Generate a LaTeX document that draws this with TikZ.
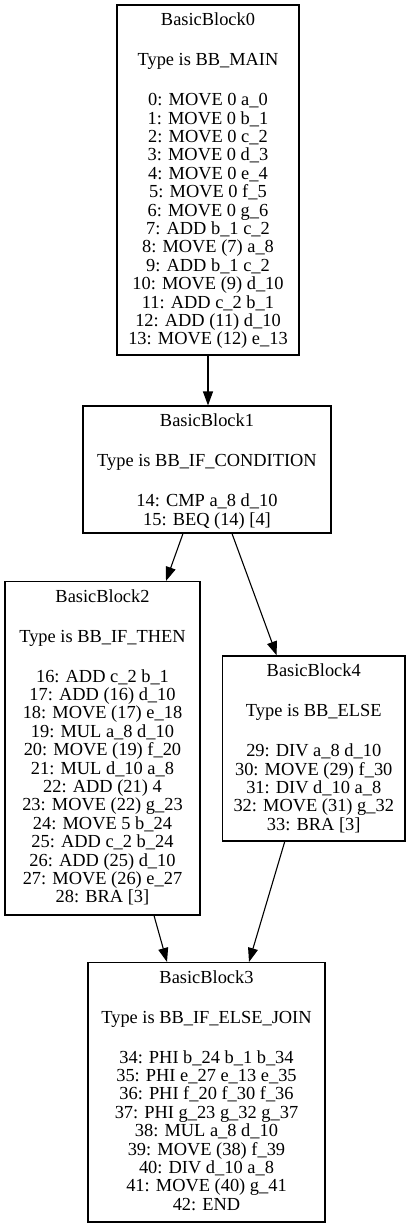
\documentclass[tikz,border=0pt]{standalone}
\usepackage{fontspec}
\setmainfont{Liberation Serif}
\usetikzlibrary{arrows.meta}
\newcommand{\gap}{\\[21.6pt]}
\tikzset{
  blk/.style={draw=black, line width=1.1pt, inner sep=0pt, rectangle},
  lbl/.style={anchor=north, inner sep=0pt, align=center, yshift=-8pt,
    font=\fontsize{18.4}{18.4}\selectfont},
  edge/.style={draw=black, line width=1.1pt, -{Triangle[length=14pt,width=10pt]}}
}
\begin{document}
\begin{tikzpicture}[x=1pt,y=1pt]
\useasboundingbox (0,0) rectangle (411,-1227);
% boxes
\node[blk, minimum width=182pt, minimum height=350pt] (bb0) at (208,-180) {};
\node[blk, minimum width=248pt, minimum height=127pt] (bb1) at (207,-469.5) {};
\node[blk, minimum width=195pt, minimum height=333.5pt] (bb2) at (102.5,-748.25) {};
\node[blk, minimum width=182.5pt, minimum height=185pt] (bb4) at (313.75,-748.5) {};
\node[blk, minimum width=237pt, minimum height=259.5pt] (bb3) at (206.5,-1092.25) {};
% texts
\node[lbl] (t0) at (bb0.north) {\rule{0pt}{13pt}BasicBlock0\gap Type is BB\_MAIN\gap
0: MOVE 0 a\_0\\1: MOVE 0 b\_1\\2: MOVE 0 c\_2\\3: MOVE 0 d\_3\\4: MOVE 0 e\_4\\5: MOVE 0 f\_5\\6: MOVE 0 g\_6\\7: ADD b\_1 c\_2\\8: MOVE (7) a\_8\\9: ADD b\_1 c\_2\\10: MOVE (9) d\_10\\11: ADD c\_2 b\_1\\12: ADD (11) d\_10\\13: MOVE (12) e\_13};
\node[lbl] (t1) at (bb1.north) {\rule{0pt}{13pt}BasicBlock1\gap Type is BB\_IF\_CONDITION\gap
14: CMP a\_8 d\_10\\15: BEQ (14) [4]};
\node[lbl] (t2) at (bb2.north) {\rule{0pt}{13pt}BasicBlock2\gap Type is BB\_IF\_THEN\gap
16: ADD c\_2 b\_1\\17: ADD (16) d\_10\\18: MOVE (17) e\_18\\19: MUL a\_8 d\_10\\20: MOVE (19) f\_20\\21: MUL d\_10 a\_8\\22: ADD (21) 4\\23: MOVE (22) g\_23\\24: MOVE 5 b\_24\\25: ADD c\_2 b\_24\\26: ADD (25) d\_10\\27: MOVE (26) e\_27\\28: BRA [3]};
\node[lbl] (t4) at (bb4.north) {\rule{0pt}{13pt}BasicBlock4\gap Type is BB\_ELSE\gap
29: DIV a\_8 d\_10\\30: MOVE (29) f\_30\\31: DIV d\_10 a\_8\\32: MOVE (31) g\_32\\33: BRA [3]};
\node[lbl] (t3) at (bb3.north) {\rule{0pt}{13pt}BasicBlock3\gap Type is BB\_IF\_ELSE\_JOIN\gap
34: PHI b\_24 b\_1 b\_34\\35: PHI e\_27 e\_13 e\_35\\36: PHI f\_20 f\_30 f\_36\\37: PHI g\_23 g\_32 g\_37\\38: MUL a\_8 d\_10\\39: MOVE (38) f\_39\\40: DIV d\_10 a\_8\\41: MOVE (40) g\_41\\42: END};
% edges
\draw[edge] (bb0.south) -- (bb0.south |- bb1.north);
\draw[edge] ([xshift=-24pt]bb1.south) -- ([xshift=63.5pt]bb2.north);
\draw[edge] ([xshift=25pt]bb1.south) -- ([xshift=-37pt]bb4.north);
\draw[edge] ([xshift=51.5pt]bb2.south) -- ([xshift=-39.5pt]bb3.north);
\draw[edge] ([xshift=-29pt]bb4.south) -- ([xshift=42.5pt]bb3.north);
\end{tikzpicture}
\end{document}
